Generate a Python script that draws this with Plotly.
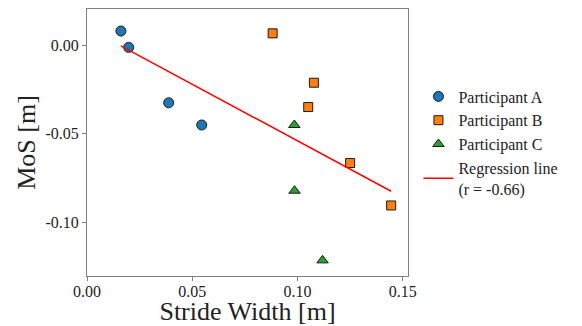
import numpy as np
import plotly.graph_objects as go

# Data
a_x = [0.0161, 0.0198, 0.0388, 0.0545]
a_y = [0.0079, -0.0013, -0.0325, -0.0450]
b_x = [0.0882, 0.1078, 0.1051, 0.1250, 0.1445]
b_y = [0.0066, -0.0212, -0.0349, -0.0664, -0.0903]
c_x = [0.0985, 0.0986, 0.1119]
c_y = [-0.0450, -0.0820, -0.1212]

x_tickvals = [0.0, 0.05, 0.10, 0.15]
x_ticktext = ["0.00", "0.05", "0.10", "0.15"]
y_tickvals = [0.0, -0.05, -0.10]
y_ticktext = ["0.00", "-0.05", "-0.10"]

all_x = np.array(a_x + b_x + c_x)
all_y = np.array(a_y + b_y + c_y)
slope, intercept = np.polyfit(all_x, all_y, 1)
r = np.corrcoef(all_x, all_y)[0, 1]
line_x = np.array([all_x.min(), all_x.max()])
line_y = slope * line_x + intercept

FONT = "Liberation Serif"
fig = go.Figure()
mk_line = dict(color="#1a1a1a", width=1)
fig.add_trace(go.Scatter(x=a_x, y=a_y, mode="markers", name="Participant A",
                         marker=dict(symbol="circle", size=10, color="#1f77b4", line=mk_line)))
fig.add_trace(go.Scatter(x=b_x, y=b_y, mode="markers", name="Participant B",
                         marker=dict(symbol="square", size=9, color="#ff7f0e", line=mk_line)))
fig.add_trace(go.Scatter(x=c_x, y=c_y, mode="markers", name="Participant C",
                         marker=dict(symbol="triangle-up", size=10, color="#2ca02c", line=mk_line)))
fig.add_trace(go.Scatter(x=line_x, y=line_y, mode="lines",
                         name=f"Regression line<br>(r = {r:.2f})",
                         line=dict(color="#ff0000", width=1.5)))

axis_common = dict(showline=True, linecolor="#7f7f7f", linewidth=1, mirror=True,
                   ticks="outside", ticklen=4, tickcolor="#7f7f7f", showgrid=False,
                   zeroline=False, automargin=False,
                   tickfont=dict(family=FONT, size=16, color="#222"))
# page body has an 8px default margin, so the figure is sized/offset to compensate
fig.update_layout(
    width=574, height=318,
    margin=dict(l=79, r=174, t=1, b=50, autoexpand=False),
    paper_bgcolor="white", plot_bgcolor="white",
    font=dict(family=FONT, color="#222"),
    xaxis=dict(range=[0, 0.1525], tickvals=x_tickvals, ticktext=x_ticktext,
               ticklabelstandoff=-3,
               title=dict(text="Stride Width [m]", font=dict(family=FONT, size=26), standoff=1),
               **axis_common),
    yaxis=dict(range=[-0.130, 0.0203], tickvals=y_tickvals, ticktext=y_ticktext,
               title=dict(text="MoS [m]", font=dict(family=FONT, size=26), standoff=2),
               **axis_common),
    legend=dict(x=1.0325, y=0.5, xanchor="left", yanchor="middle",
                font=dict(family=FONT, size=16, color="#222"),
                tracegroupgap=0, bgcolor="rgba(0,0,0,0)"),
    showlegend=True,
)
fig.write_html("out.html")
